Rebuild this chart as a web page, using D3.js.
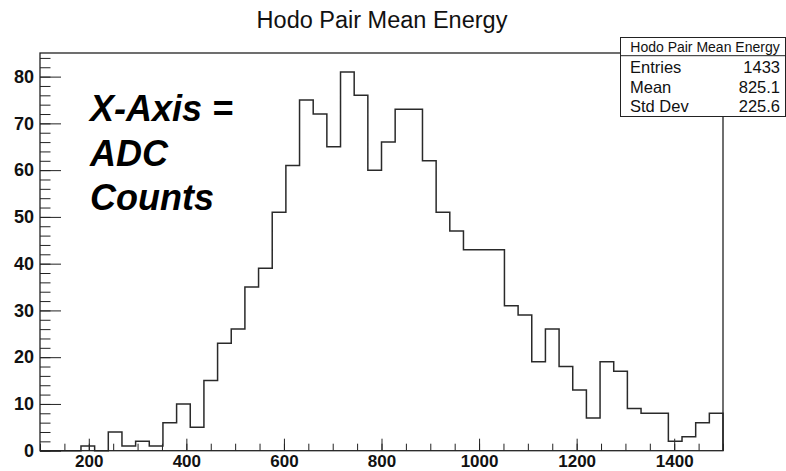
<!DOCTYPE html>
<html>
<head>
<meta charset="utf-8">
<script src="https://cdn.jsdelivr.net/npm/d3@7"></script>
<style>
  body { margin: 0; background: #fff; }
  svg { display: block; font-family: "Liberation Sans", Arial, Helvetica, sans-serif; }
  .tick text { font-weight: bold; fill: #111; }
</style>
</head>
<body>
<div id="chart"></div>
<script>
// histogram: 50 bins from 100 to 1500
const xRange = [100, 1500];
const binCount = 50;
const counts = [0, 0, 0, 1, 0, 4, 1, 2, 1, 6,
                10, 5, 15, 23, 26, 35, 39, 51, 61, 75,
                72, 65, 81, 76, 60, 66, 73, 73, 62, 51,
                47, 43, 43, 43, 31, 29, 19, 26, 18, 13,
                7, 19, 17, 9, 8, 8, 2, 3, 6, 8];

const xTicks = [200, 400, 600, 800, 1000, 1200, 1400];
const yTicks = [0, 10, 20, 30, 40, 50, 60, 70, 80];

const title = "Hodo Pair Mean Energy";
const statsLabels = ["Entries", "Mean", "Std Dev"];
const statsValues = ["1433", "825.1", "225.6"];
const noteLines = ["X-Axis =", "ADC", "Counts"];

const width = 786, height = 471;
const margin = {top: 53, right: 63, bottom: 20.3, left: 40};
const plotW = width - margin.left - margin.right;
const plotH = height - margin.top - margin.bottom;

const svg = d3.select("#chart")
  .append("svg")
    .attr("width", width)
    .attr("height", height);

const g = svg.append("g")
    .attr("transform", "translate(" + margin.left + "," + margin.top + ")");

const binW = (xRange[1] - xRange[0]) / binCount;

const xScale = d3.scaleLinear().domain(xRange).range([0, plotW]);
const yScale = d3.scaleLinear().domain([0, d3.max(counts) * 1.05]).range([plotH, 0]);

// minor ticks
const xMinor = d3.range(xRange[0], xRange[1] + 1, 50);
const yMinor = d3.range(0, 85, 2);

g.append("g")
    .attr("transform", "translate(0," + plotH + ")")
  .call(d3.axisBottom(xScale).tickValues(xMinor).tickSize(-7).tickFormat(""))
  .call(function(a) { a.select(".domain").remove(); })
  .selectAll("line").attr("stroke", "#222");

g.append("g")
  .call(d3.axisLeft(yScale).tickValues(yMinor).tickSize(-10.5).tickFormat(""))
  .call(function(a) { a.select(".domain").remove(); })
  .selectAll("line").attr("stroke", "#222");

// major ticks + labels
const xAxis = g.append("g")
    .attr("transform", "translate(0," + plotH + ")")
  .call(d3.axisBottom(xScale).tickValues(xTicks).tickFormat(d3.format("d"))
      .tickSize(-12).tickPadding(4).tickSizeOuter(0));
xAxis.select(".domain").remove();
xAxis.selectAll("line").attr("stroke", "#222");
xAxis.selectAll("text").style("font-size", "17px");

const yAxis = g.append("g")
  .call(d3.axisLeft(yScale).tickValues(yTicks).tickSize(-21).tickPadding(6).tickSizeOuter(0));
yAxis.select(".domain").remove();
yAxis.selectAll("line").attr("stroke", "#222");
yAxis.selectAll("text").style("font-size", "18px");

// histogram outline
const pts = counts.map(function(c, i) { return [xRange[0] + i * binW, c]; });
pts.push([xRange[1], counts[counts.length - 1]]);
pts.push([xRange[1], 0]);

g.append("path")
    .datum(pts)
    .attr("fill", "none")
    .attr("stroke", "#2a2a2a")
    .attr("stroke-width", 1.5)
    .attr("d", d3.line()
        .x(function(d) { return xScale(d[0]); })
        .y(function(d) { return yScale(d[1]); })
        .curve(d3.curveStepAfter));

// frame
g.append("rect")
    .attr("x", 0)
    .attr("y", 0)
    .attr("width", plotW)
    .attr("height", plotH)
    .attr("fill", "none")
    .attr("stroke", "#222")
    .attr("stroke-width", 1.3);

// title
svg.append("text")
    .attr("x", 382)
    .attr("y", 27.5)
    .attr("text-anchor", "middle")
    .style("font-size", "23.5px")
    .attr("fill", "#111")
    .text(title);

// annotation
svg.append("g")
  .selectAll("text")
  .data(noteLines)
  .enter()
  .append("text")
    .attr("x", 90)
    .attr("y", function(d, i) { return 121 + i * 44.6; })
    .style("font-size", "36px")
    .style("font-weight", "bold")
    .style("font-style", "italic")
    .attr("fill", "#000")
    .text(function(d) { return d; });

// stats box
const box = svg.append("g").attr("transform", "translate(620.5,37.5)");
box.append("rect")
    .attr("width", 165)
    .attr("height", 79)
    .attr("fill", "#fff")
    .attr("stroke", "#222")
    .attr("stroke-width", 1);
box.append("line")
    .attr("x1", 0).attr("x2", 165)
    .attr("y1", 18.2).attr("y2", 18.2)
    .attr("stroke", "#222");
box.append("text")
    .attr("x", 84.5)
    .attr("y", 14.3)
    .attr("text-anchor", "middle")
    .style("font-size", "14px")
    .attr("fill", "#111")
    .text(title);

statsLabels.forEach(function(lab, i) {
  box.append("text")
      .attr("x", 9.5)
      .attr("y", 35.5 + i * 19.5)
      .style("font-size", "16.5px")
      .attr("fill", "#111")
      .text(lab);
  box.append("text")
      .attr("x", 159.5)
      .attr("y", 35.5 + i * 19.5)
      .attr("text-anchor", "end")
      .style("font-size", "16.5px")
      .attr("fill", "#111")
      .text(statsValues[i]);
});
</script>
</body>
</html>
